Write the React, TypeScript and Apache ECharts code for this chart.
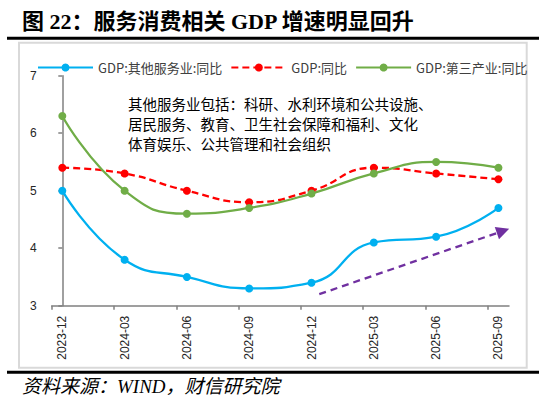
import React, { useEffect, useRef } from "react";
import * as echarts from "echarts";

const categories = ["2023-12", "2024-03", "2024-06", "2024-09", "2024-12", "2025-03", "2025-06", "2025-09"];
const otherServices = [5.0, 3.8, 3.5, 3.3, 3.4, 4.1, 4.2, 4.7];
const gdpTotal = [5.4, 5.3, 5.0, 4.8, 5.0, 5.4, 5.3, 5.2];
const tertiary = [6.3, 5.0, 4.6, 4.7, 4.95, 5.3, 5.5, 5.4];
const yTicks = [3, 4, 5, 6, 7];
// trend arrow annotation: [x index, value] start and end
const trendArrow = [
  [4.125, 3.2],
  [7.074, 4.3],
];
const seriesNames = ["GDP:其他服务业:同比", "GDP:同比", "GDP:第三产业:同比"];
const titleText = "图 22：服务消费相关 GDP 增速明显回升";
const noteText = "其他服务业包括：科研、水利环境和公共设施、\n居民服务、教育、卫生社会保障和福利、文化\n体育娱乐、公共管理和社会组织";
const sourceText = "资料来源：WIND，财信研究院";

const TICK_SHIFT = 0.17;

export default function App() {
  const ref = useRef<HTMLDivElement>(null);
  useEffect(() => {
    if (!ref.current) return;
    const chart = echarts.init(ref.current, null, { renderer: "svg" });
    const toPts = (arr: number[]) => arr.map((v, i) => [i, v]);
    const cjk = "'Noto Sans CJK SC', 'Noto Sans', sans-serif";
    const axisLineStyle = { color: "#808080", width: 1.5 };
    chart.setOption({
      animation: false,
      textStyle: { fontFamily: cjk },
      grid: { left: 51.7, right: 41, top: 75.7, bottom: 97.3 },
      legend: {
        left: 32,
        top: 56,
        itemWidth: 55,
        itemHeight: 10,
        itemGap: 8,
        textStyle: { fontSize: 13, color: "#404040", fontFamily: cjk },
        data: seriesNames,
      },
      xAxis: {
        type: "value",
        min: -TICK_SHIFT,
        max: categories.length - 1 + TICK_SHIFT,
        axisLine: { show: true, lineStyle: axisLineStyle },
        axisTick: {
          show: true,
          length: 4,
          lineStyle: axisLineStyle,
          customValues: categories.map((_, i) => i - TICK_SHIFT),
        },
        axisLabel: {
          customValues: categories.map((_, i) => i),
          formatter: (v: number) => categories[Math.round(v)] ?? "",
          rotate: 90,
          margin: 10,
          fontSize: 12,
          color: "#262626",
          fontFamily: "'Liberation Sans', Arial, sans-serif",
        },
        splitLine: { show: false },
      },
      yAxis: {
        type: "value",
        min: yTicks[0],
        max: yTicks[yTicks.length - 1],
        interval: 1,
        axisLine: { show: true, lineStyle: axisLineStyle },
        axisTick: { show: true, length: 4, lineStyle: axisLineStyle },
        axisLabel: {
          margin: 15,
          fontSize: 12,
          color: "#262626",
          fontFamily: "'Liberation Sans', Arial, sans-serif",
        },
        splitLine: { show: false },
      },
      series: [
        {
          name: seriesNames[0],
          type: "line",
          data: toPts(otherServices),
          smooth: 0.5,
          symbol: "circle",
          symbolSize: 8,
          color: "#00B0F0",
          lineStyle: { width: 2.3, color: "#00B0F0" },
          itemStyle: { color: "#00B0F0" },
          z: 3,
          markLine: {
            silent: true,
            symbol: ["none", "triangle"],
            symbolSize: 13,
            label: { show: false },
            lineStyle: { color: "#7030A0", width: 2.3, type: [7, 5] },
            itemStyle: { color: "#7030A0" },
            data: [[{ coord: trendArrow[0] }, { coord: trendArrow[1] }]],
          },
        },
        {
          name: seriesNames[1],
          type: "line",
          data: toPts(gdpTotal),
          smooth: 0.5,
          symbol: "circle",
          symbolSize: 8,
          color: "#FF0000",
          lineStyle: { width: 2.3, color: "#FF0000", type: [7, 4] },
          itemStyle: { color: "#FF0000" },
          z: 2,
        },
        {
          name: seriesNames[2],
          type: "line",
          data: toPts(tertiary),
          smooth: 0.5,
          symbol: "circle",
          symbolSize: 8,
          color: "#70AD47",
          lineStyle: { width: 2.3, color: "#70AD47" },
          itemStyle: { color: "#70AD47" },
          z: 2,
        },
      ],
      graphic: [
        {
          type: "rect",
          z: -10,
          shape: { x: 19, y: 42.7, width: 507.7, height: 325 },
          style: { fill: "none", stroke: "#d9d9d9", lineWidth: 2 },
        },
        {
          type: "text",
          x: 22,
          y: 21.5,
          style: {
            text: titleText,
            fontSize: 22,
            fontWeight: "bold",
            fontFamily: "'Liberation Serif', 'Noto Sans CJK SC', serif",
            fill: "#000",
            verticalAlign: "middle",
          },
        },
        {
          type: "line",
          shape: { x1: 7, y1: 38.3, x2: 539, y2: 38.3 },
          style: { stroke: "#000", lineWidth: 3 },
        },
        {
          type: "line",
          shape: { x1: 7, y1: 372.3, x2: 539, y2: 372.3 },
          style: { stroke: "#000", lineWidth: 3 },
        },
        {
          type: "text",
          x: 22,
          y: 386.5,
          style: {
            text: sourceText,
            fontSize: 19,
            fontStyle: "italic",
            fontFamily: "'Liberation Serif', 'Noto Sans CJK SC', serif",
            fill: "#000",
            verticalAlign: "middle",
          },
        },
        {
          type: "text",
          x: 128,
          y: 93,
          style: {
            text: noteText,
            fontSize: 14.5,
            lineHeight: 20,
            fontFamily: cjk,
            fill: "#000",
            verticalAlign: "top",
          },
        },
      ],
    });
    return () => chart.dispose();
  }, []);
  return (
    <div
      ref={ref}
      style={{ position: "absolute", left: 0, top: 0, width: 550, height: 403, background: "#fff" }}
    />
  );
}
